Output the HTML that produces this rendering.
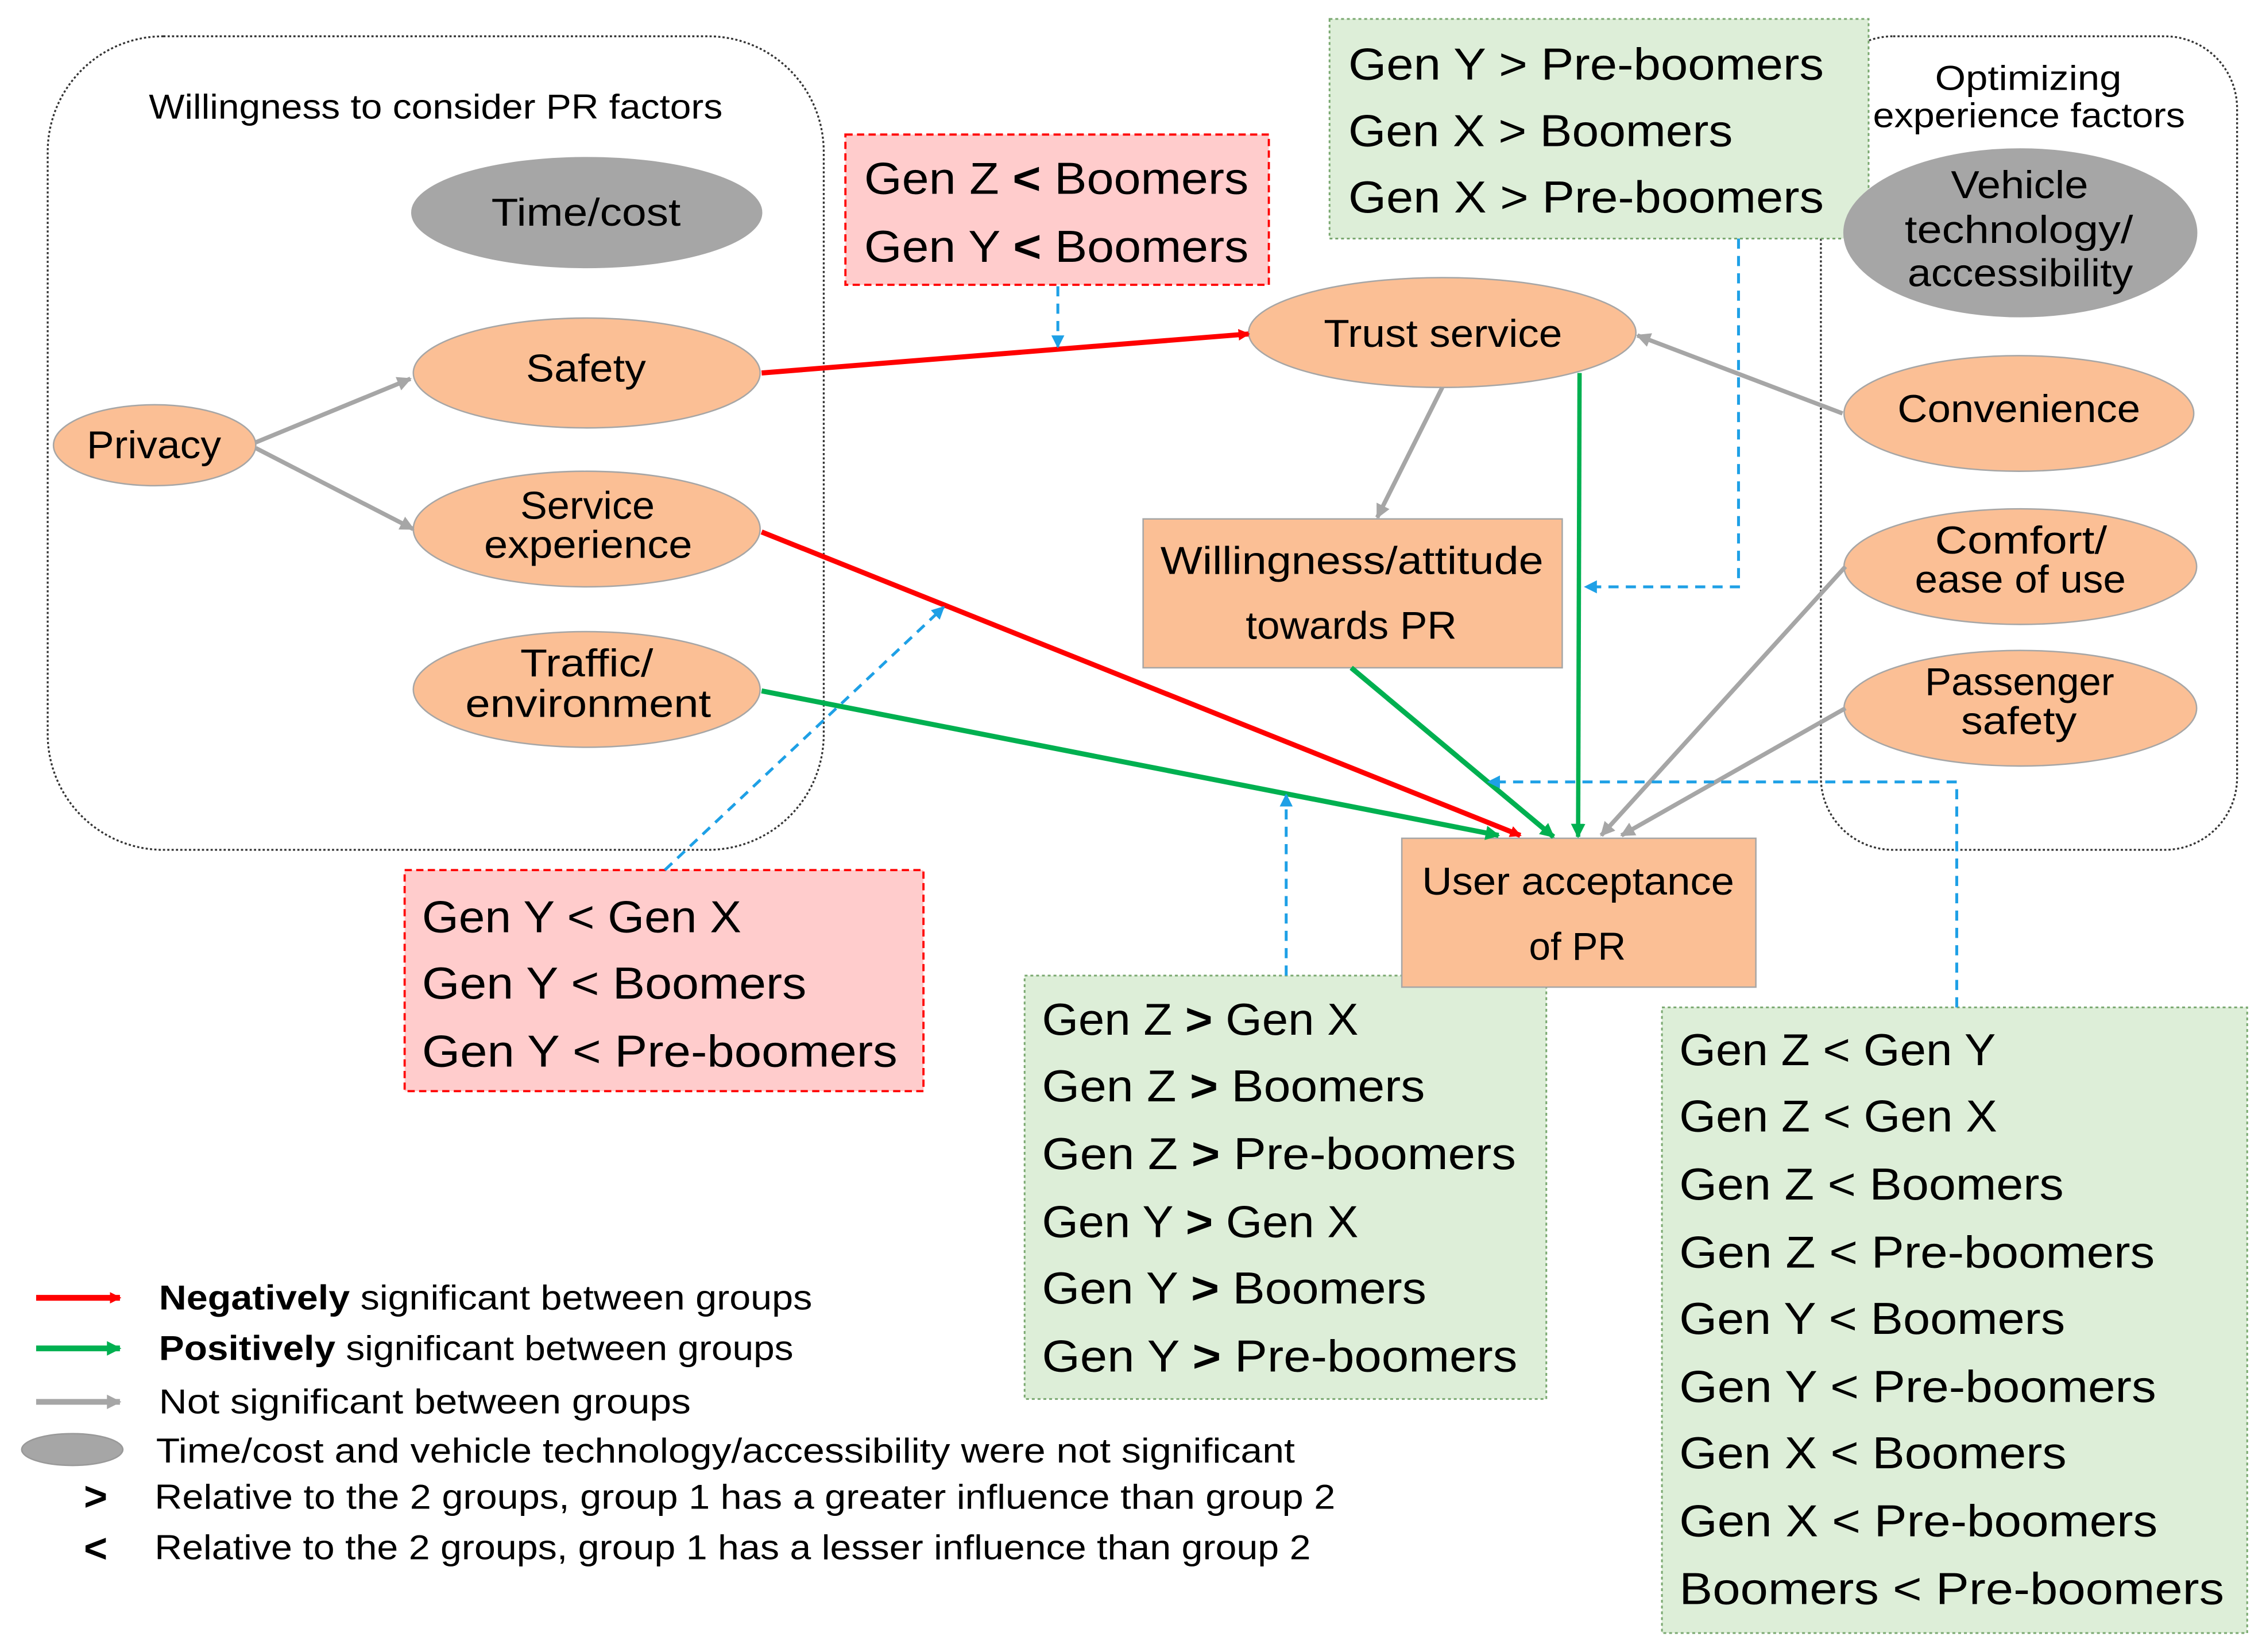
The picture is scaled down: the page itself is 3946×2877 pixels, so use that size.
<!DOCTYPE html>
<html><head><meta charset="utf-8"><style>
html,body{margin:0;padding:0;background:#fff;}
svg{display:block;}
text{font-family:"Liberation Sans",sans-serif;fill:#000;}
</style></head><body>
<svg width="3946" height="2877" viewBox="0 0 1568 1143" xmlns="http://www.w3.org/2000/svg">
<defs>
<marker id="ar" markerWidth="8" markerHeight="8" refX="7" refY="4" orient="auto" markerUnits="userSpaceOnUse" viewBox="0 0 8 8"><path d="M0,0 L8,4 L0,8 z" fill="#ff0000"/></marker>
<marker id="ag" markerWidth="10" markerHeight="10" refX="9" refY="5" orient="auto" markerUnits="userSpaceOnUse" viewBox="0 0 10 10"><path d="M0,0 L10,5 L0,10 z" fill="#00b050"/></marker>
<marker id="ay" markerWidth="10" markerHeight="10" refX="9" refY="5" orient="auto" markerUnits="userSpaceOnUse" viewBox="0 0 10 10"><path d="M0,0 L10,5 L0,10 z" fill="#a6a6a6"/></marker>
<marker id="ab" markerWidth="9" markerHeight="9" refX="8" refY="4.5" orient="auto" markerUnits="userSpaceOnUse" viewBox="0 0 9 9"><path d="M0,0 L9,4.5 L0,9 z" fill="#1ea0e6"/></marker>
</defs>

<!-- group containers -->
<rect x="33" y="25" width="537" height="563" rx="80" fill="none" stroke="#333" stroke-width="1.3" stroke-dasharray="1.5,1.5"/>
<rect x="1260" y="25" width="288" height="563" rx="50" fill="none" stroke="#333" stroke-width="1.3" stroke-dasharray="1.5,1.5"/>
<text x="103" y="82" font-size="24" textLength="397" lengthAdjust="spacingAndGlyphs">Willingness to consider PR factors</text>
<text x="1339" y="62" font-size="24" textLength="129" lengthAdjust="spacingAndGlyphs">Optimizing</text>
<text x="1296" y="88" font-size="24" textLength="216" lengthAdjust="spacingAndGlyphs">experience factors</text>

<!-- stat boxes -->
<rect x="585" y="93" width="293" height="104" fill="#ffcccc" stroke="#ff0000" stroke-width="1.5" stroke-dasharray="5,3"/>
<text x="598" y="134" font-size="31" textLength="266" lengthAdjust="spacingAndGlyphs">Gen Z <tspan font-weight="bold">&lt;</tspan> Boomers</text>
<text x="598" y="181" font-size="31" textLength="266" lengthAdjust="spacingAndGlyphs">Gen Y <tspan font-weight="bold">&lt;</tspan> Boomers</text>

<rect x="920" y="13" width="373" height="152" fill="#ddeed8" stroke="#7aa870" stroke-width="1.2" stroke-dasharray="2,2"/>
<text x="933" y="55" font-size="31" textLength="329" lengthAdjust="spacingAndGlyphs">Gen Y &gt; Pre-boomers</text>
<text x="933" y="101" font-size="31" textLength="266" lengthAdjust="spacingAndGlyphs">Gen X &gt; Boomers</text>
<text x="933" y="147" font-size="31" textLength="329" lengthAdjust="spacingAndGlyphs">Gen X &gt; Pre-boomers</text>

<rect x="280" y="602" width="359" height="153" fill="#ffcccc" stroke="#ff0000" stroke-width="1.5" stroke-dasharray="5,3"/>
<text x="292" y="645" font-size="31" textLength="221" lengthAdjust="spacingAndGlyphs">Gen Y &lt; Gen X</text>
<text x="292" y="691" font-size="31" textLength="266" lengthAdjust="spacingAndGlyphs">Gen Y &lt; Boomers</text>
<text x="292" y="738" font-size="31" textLength="329" lengthAdjust="spacingAndGlyphs">Gen Y &lt; Pre-boomers</text>

<rect x="709" y="675" width="361" height="293" fill="#ddeed8" stroke="#7aa870" stroke-width="1.2" stroke-dasharray="2,2"/>
<g font-size="31">
<text x="721" y="716" textLength="219" lengthAdjust="spacingAndGlyphs">Gen Z <tspan font-weight="bold">&gt;</tspan> Gen X</text>
<text x="721" y="762" textLength="265" lengthAdjust="spacingAndGlyphs">Gen Z <tspan font-weight="bold">&gt;</tspan> Boomers</text>
<text x="721" y="809" textLength="328" lengthAdjust="spacingAndGlyphs">Gen Z <tspan font-weight="bold">&gt;</tspan> Pre-boomers</text>
<text x="721" y="856" textLength="219" lengthAdjust="spacingAndGlyphs">Gen Y <tspan font-weight="bold">&gt;</tspan> Gen X</text>
<text x="721" y="902" textLength="266" lengthAdjust="spacingAndGlyphs">Gen Y <tspan font-weight="bold">&gt;</tspan> Boomers</text>
<text x="721" y="949" textLength="329" lengthAdjust="spacingAndGlyphs">Gen Y <tspan font-weight="bold">&gt;</tspan> Pre-boomers</text>
</g>

<rect x="1150" y="697" width="405" height="433" fill="#ddeed8" stroke="#7aa870" stroke-width="1.2" stroke-dasharray="2,2"/>
<g font-size="31">
<text x="1162" y="737" textLength="219" lengthAdjust="spacingAndGlyphs">Gen Z &lt; Gen Y</text>
<text x="1162" y="783" textLength="220" lengthAdjust="spacingAndGlyphs">Gen Z &lt; Gen X</text>
<text x="1162" y="830" textLength="266" lengthAdjust="spacingAndGlyphs">Gen Z &lt; Boomers</text>
<text x="1162" y="877" textLength="329" lengthAdjust="spacingAndGlyphs">Gen Z &lt; Pre-boomers</text>
<text x="1162" y="923" textLength="267" lengthAdjust="spacingAndGlyphs">Gen Y &lt; Boomers</text>
<text x="1162" y="970" textLength="330" lengthAdjust="spacingAndGlyphs">Gen Y &lt; Pre-boomers</text>
<text x="1162" y="1016" textLength="268" lengthAdjust="spacingAndGlyphs">Gen X &lt; Boomers</text>
<text x="1162" y="1063" textLength="331" lengthAdjust="spacingAndGlyphs">Gen X &lt; Pre-boomers</text>
<text x="1162" y="1110" textLength="377" lengthAdjust="spacingAndGlyphs">Boomers &lt; Pre-boomers</text>
</g>

<!-- nodes -->
<g stroke="#a6a6a6" stroke-width="1">
<ellipse cx="406" cy="147" rx="121" ry="38" fill="#a6a6a6"/>
<ellipse cx="406" cy="258" rx="120" ry="38" fill="#fbbf95"/>
<ellipse cx="107" cy="308" rx="70" ry="28" fill="#fbbf95"/>
<ellipse cx="406" cy="366" rx="120" ry="40" fill="#fbbf95"/>
<ellipse cx="406" cy="477" rx="120" ry="40" fill="#fbbf95"/>
<ellipse cx="1398" cy="161" rx="122" ry="58" fill="#a6a6a6"/>
<ellipse cx="998" cy="230" rx="134" ry="38" fill="#fbbf95"/>
<ellipse cx="1397" cy="286" rx="121" ry="40" fill="#fbbf95"/>
<ellipse cx="1398" cy="392" rx="122" ry="40" fill="#fbbf95"/>
<ellipse cx="1398" cy="490" rx="122" ry="40" fill="#fbbf95"/>
<rect x="791" y="359" width="290" height="103" fill="#fbbf95"/>
<rect x="970" y="580" width="245" height="103" fill="#fbbf95"/>
</g>
<g font-size="27">
<text x="340" y="156" textLength="131" lengthAdjust="spacingAndGlyphs">Time/cost</text>
<text x="364" y="264" textLength="83" lengthAdjust="spacingAndGlyphs">Safety</text>
<text x="60" y="317" textLength="93" lengthAdjust="spacingAndGlyphs">Privacy</text>
<text x="360" y="359" textLength="93" lengthAdjust="spacingAndGlyphs">Service</text>
<text x="335" y="386" textLength="144" lengthAdjust="spacingAndGlyphs">experience</text>
<text x="360" y="468" textLength="92" lengthAdjust="spacingAndGlyphs">Traffic/</text>
<text x="322" y="496" textLength="170" lengthAdjust="spacingAndGlyphs">environment</text>
<text x="1350" y="137" textLength="95" lengthAdjust="spacingAndGlyphs">Vehicle</text>
<text x="1318" y="168" textLength="158" lengthAdjust="spacingAndGlyphs">technology/</text>
<text x="1320" y="198" textLength="156" lengthAdjust="spacingAndGlyphs">accessibility</text>
<text x="916" y="240" textLength="165" lengthAdjust="spacingAndGlyphs">Trust service</text>
<text x="1313" y="292" textLength="168" lengthAdjust="spacingAndGlyphs">Convenience</text>
<text x="1339" y="383" textLength="119" lengthAdjust="spacingAndGlyphs">Comfort/</text>
<text x="1325" y="410" textLength="146" lengthAdjust="spacingAndGlyphs">ease of use</text>
<text x="1332" y="481" textLength="131" lengthAdjust="spacingAndGlyphs">Passenger</text>
<text x="1357" y="508" textLength="80" lengthAdjust="spacingAndGlyphs">safety</text>
<text x="803" y="397" textLength="265" lengthAdjust="spacingAndGlyphs">Willingness/attitude</text>
<text x="862" y="442" textLength="146" lengthAdjust="spacingAndGlyphs">towards PR</text>
<text x="984" y="619" textLength="216" lengthAdjust="spacingAndGlyphs">User acceptance</text>
<text x="1058" y="664" textLength="67" lengthAdjust="spacingAndGlyphs">of PR</text>
</g>

<!-- connectors -->
<g fill="none">
<line x1="177" y1="306" x2="284" y2="262" stroke="#a6a6a6" stroke-width="3" marker-end="url(#ay)"/>
<line x1="177" y1="310" x2="286" y2="366" stroke="#a6a6a6" stroke-width="3" marker-end="url(#ay)"/>
<line x1="527" y1="258" x2="864" y2="231" stroke="#ff0000" stroke-width="3.5" marker-end="url(#ar)"/>
<line x1="527" y1="368" x2="1052" y2="578" stroke="#ff0000" stroke-width="3.5" marker-end="url(#ar)"/>
<line x1="527" y1="478" x2="1037" y2="578" stroke="#00b050" stroke-width="3.5" marker-end="url(#ag)"/>
<line x1="998" y1="268" x2="953" y2="358" stroke="#a6a6a6" stroke-width="3" marker-end="url(#ay)"/>
<line x1="1093" y1="258" x2="1092" y2="579" stroke="#00b050" stroke-width="3" marker-end="url(#ag)"/>
<line x1="935" y1="462" x2="1075" y2="579" stroke="#00b050" stroke-width="3.5" marker-end="url(#ag)"/>
<line x1="1275" y1="286" x2="1133" y2="232" stroke="#a6a6a6" stroke-width="3" marker-end="url(#ay)"/>
<line x1="1277" y1="392" x2="1108" y2="578" stroke="#a6a6a6" stroke-width="3" marker-end="url(#ay)"/>
<line x1="1277" y1="490" x2="1122" y2="578" stroke="#a6a6a6" stroke-width="3" marker-end="url(#ay)"/>
<g stroke="#1ea0e6" stroke-width="2" stroke-dasharray="7,5">
<line x1="732" y1="198" x2="732" y2="240" marker-end="url(#ab)"/>
<polyline points="1203,165 1203,406 1097,406" marker-end="url(#ab)"/>
<line x1="460" y1="602" x2="653" y2="420" marker-end="url(#ab)"/>
<line x1="890" y1="675" x2="890" y2="550" marker-end="url(#ab)"/>
<polyline points="1354,697 1354,541 1030,541" marker-end="url(#ab)"/>
</g>
</g>

<!-- legend -->
<line x1="25" y1="898" x2="83" y2="898" stroke="#ff0000" stroke-width="4" marker-end="url(#ar)"/>
<line x1="25" y1="933" x2="83" y2="933" stroke="#00b050" stroke-width="4" marker-end="url(#ag)"/>
<line x1="25" y1="970" x2="83" y2="970" stroke="#a6a6a6" stroke-width="4" marker-end="url(#ay)"/>
<ellipse cx="50" cy="1003" rx="35" ry="11" fill="#a6a6a6" stroke="#999" stroke-width="1"/>
<g font-size="24">
<text x="110" y="906" textLength="452" lengthAdjust="spacingAndGlyphs"><tspan font-weight="bold">Negatively</tspan> significant between groups</text>
<text x="110" y="941" textLength="439" lengthAdjust="spacingAndGlyphs"><tspan font-weight="bold">Positively</tspan> significant between groups</text>
<text x="110" y="978" textLength="368" lengthAdjust="spacingAndGlyphs">Not significant between groups</text>
<text x="108" y="1012" textLength="788" lengthAdjust="spacingAndGlyphs">Time/cost and vehicle technology/accessibility were not significant</text>
<text x="107" y="1044" textLength="817" lengthAdjust="spacingAndGlyphs">Relative to the 2 groups, group 1 has a greater influence than group 2</text>
<text x="107" y="1079" textLength="800" lengthAdjust="spacingAndGlyphs">Relative to the 2 groups, group 1 has a lesser influence than group 2</text>
<text x="58" y="1045" font-size="28" font-weight="bold">&gt;</text>
<text x="58" y="1081" font-size="28" font-weight="bold">&lt;</text>
</g>
</svg>
</body></html>
